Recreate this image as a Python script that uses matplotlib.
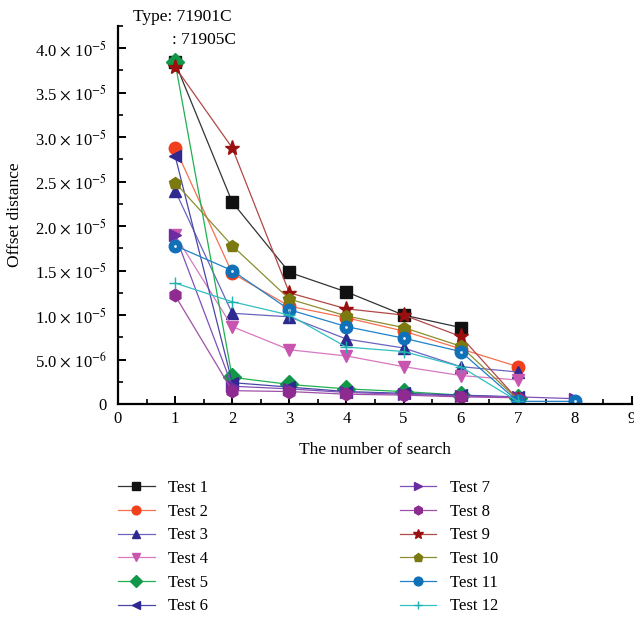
import matplotlib
matplotlib.use("Agg")
import matplotlib.pyplot as plt
from matplotlib.ticker import MultipleLocator, FuncFormatter

plt.rcParams['font.family'] = ['Liberation Serif', 'DejaVu Serif']
plt.rcParams['mathtext.fontset'] = 'stix'

labels = ["Test 1", "Test 2", "Test 3", "Test 4", "Test 5", "Test 6",
          "Test 7", "Test 8", "Test 9", "Test 10", "Test 11", "Test 12"]

test1 = [3.84, 2.27, 1.48, 1.26, 1.00, 0.86]
test2 = [2.88, 1.47, 1.10, 0.97, 0.82, 0.62, 0.42]
test3 = [2.40, 1.02, 0.98, 0.73, 0.63, 0.42, 0.36]
test4 = [1.90, 0.87, 0.61, 0.54, 0.42, 0.32, 0.27]
test5 = [3.84, 0.30, 0.22, 0.17, 0.14, 0.10, 0.07]
test6 = [2.79, 0.24, 0.19, 0.14, 0.12, 0.10, 0.08]
test7 = [1.90, 0.20, 0.17, 0.13, 0.11, 0.09, 0.08, 0.06]
test8 = [1.22, 0.15, 0.14, 0.11, 0.10, 0.08, 0.07]
test9 = [3.79, 2.88, 1.25, 1.07, 1.00, 0.76, 0.05]
test10 = [2.49, 1.78, 1.18, 0.99, 0.86, 0.65, 0.05]
test11 = [1.78, 1.50, 1.06, 0.87, 0.74, 0.59, 0.03, 0.03]
test12 = [1.36, 1.15, 1.00, 0.64, 0.59, 0.42, 0.03]
series = [test1, test2, test3, test4, test5, test6,
          test7, test8, test9, test10, test11, test12]
scale = 1e-5

markers = ['s', 'o', '^', 'v', 'D', '<', '>', 'h', '*', 'p', 'o', '+']
mcolors = ['#111111', '#F0401E', '#2E2A90', '#C855B0', '#109848', '#2E2890',
           '#6A2CA0', '#8E2A90', '#9A1010', '#7A7A10', '#1070B8', '#20B0B0']
lcolors = ['#333333', '#F57050', '#6A64C0', '#D878C0', '#20B050', '#4A46A8',
           '#8050B8', '#A050A8', '#B04848', '#8C8C30', '#2080C8', '#30C0C0']

fig = plt.figure(figsize=(6.34, 6.19), dpi=100)
ax = fig.add_axes([118/634, 1-404/619, 514/634, 378/619])

for i, (vals, lab) in enumerate(zip(series, labels)):
    xs = list(range(1, len(vals) + 1))
    ys = [v * scale for v in vals]
    ms = 9 if markers[i] != '*' else 11
    if markers[i] == '+':
        ms = 8
    ax.plot(xs, ys, color=lcolors[i], lw=0.9, marker=markers[i], ms=ms,
            mfc=mcolors[i], mec=mcolors[i], mew=1.0, label=lab)
    if i == 10:
        ax.plot(xs, ys, ls='none', marker='o', ms=2.0, mfc='#E8F4FF', mec='none')

ax.set_xlim(0, 9)
ax.set_ylim(0, 4.25e-5)
ax.xaxis.set_major_locator(MultipleLocator(1))
ax.xaxis.set_minor_locator(MultipleLocator(0.5))
ax.yaxis.set_major_locator(MultipleLocator(0.5e-5))
ax.yaxis.set_minor_locator(MultipleLocator(0.25e-5))

def yfmt(v, pos):
    if abs(v) < 1e-12:
        return "0"
    if v < 0.99e-5:
        return r"%.1f $\times$ 10$^{-6}$" % (v / 1e-6)
    return r"%.1f $\times$ 10$^{-5}$" % (v / 1e-5)

ax.yaxis.set_major_formatter(FuncFormatter(yfmt))
for s in ['top', 'right']:
    ax.spines[s].set_visible(False)
for s in ['left', 'bottom']:
    ax.spines[s].set_linewidth(1.6)
ax.tick_params(which='major', direction='in', length=6, width=1.4, labelsize=12)
ax.tick_params(axis='y', which='major', pad=8)
ax.tick_params(axis='x', which='major', pad=5)
ax.tick_params(which='minor', direction='in', length=3.5, width=1.2)

ax.set_xlabel("The number of search", fontsize=12.5)
ax.set_ylabel("Offset distance", fontsize=12.5)
ax.xaxis.set_label_coords(0.5, -0.1)
ax.yaxis.set_label_coords(-0.185, 0.5)

fig.text(133/634, 1-17/619, "Type: 71901C", fontsize=12.5, va='center', ha='left')
fig.text(236/634, 1-40/619, ": 71905C", fontsize=12.5, va='center', ha='right')

fig.legend(loc='upper left', bbox_to_anchor=(118/634, 1-480/619), ncol=2,
           frameon=False, fontsize=12, borderpad=0, handlelength=2.2,
           handletextpad=0.8, columnspacing=11.5, labelspacing=0.46,
           markerscale=0.7, borderaxespad=0)

fig.savefig("out.png", dpi=100)
